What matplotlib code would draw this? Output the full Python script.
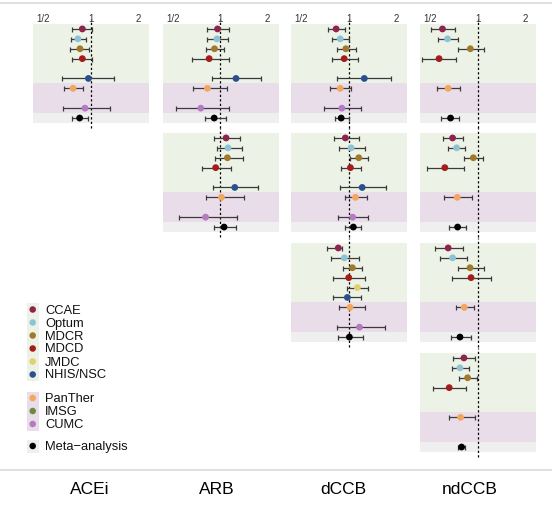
import matplotlib
matplotlib.use("Agg")
import matplotlib.pyplot as plt
from matplotlib.patches import Rectangle
import numpy as np

plt.rcParams['font.family'] = ['Liberation Sans', 'DejaVu Sans']

nan = np.nan

databases = ["CCAE", "Optum", "MDCR", "MDCD", "JMDC", "NHIS/NSC",
             "PanTher", "IMSG", "CUMC", "Meta\u2212analysis"]
db_colors = ["#8E2350", "#8EC3D6", "#A07A2C", "#A51C1C", "#E3CF6E", "#2B4F91",
             "#F2A65E", "#6E8B3D", "#B57BC0", "#000000"]
drug_labels = ["ACEi", "ARB", "dCCB", "ndCCB"]
tick_vals = [0.5, 1, 2]
tick_text = ["1/2", "1", "2"]

# hazard ratios with 95% CI, one panel per (row, column)
r1_acei_hr = [0.885, 0.83, 0.855, 0.885, nan, 0.967, 0.772, nan, 0.92, 0.851]
r1_acei_lo = [0.764, 0.746, 0.739, 0.764, nan, 0.66, 0.676, nan, 0.666, 0.764]
r1_acei_hi = [1.025, 0.929, 0.976, 1.015, nan, 1.41, 0.898, nan, 1.33, 0.967]

r1_arb_hr = [0.962, 0.953, 0.92, 0.851, nan, 1.259, 0.83, nan, 0.753, 0.916]
r1_arb_lo = [0.822, 0.83, 0.811, 0.66, nan, 0.885, 0.676, nan, 0.522, 0.803]
r1_arb_hi = [1.141, 1.119, 1.06, 1.13, nan, 1.816, 1.103, nan, 1.141, 1.087]

r1_dccb_hr = [0.832, 0.883, 0.959, 0.936, nan, 1.255, 0.883, nan, 0.905, 0.896]
r1_dccb_lo = [0.744, 0.781, 0.841, 0.781, nan, 0.849, 0.762, nan, 0.701, 0.82]
r1_dccb_hi = [0.941, 1.007, 1.116, 1.138, nan, 1.857, 1.037, nan, 1.196, 1.01]

r1_ndccb_hr = [0.598, 0.644, 0.898, 0.569, nan, nan, 0.65, nan, nan, 0.673]
r1_ndccb_lo = [0.509, 0.561, 0.746, 0.446, nan, nan, 0.556, nan, nan, 0.584]
r1_ndccb_hi = [0.717, 0.752, 1.097, 0.727, nan, nan, 0.771, nan, nan, 0.764]

r2_arb_hr = [1.089, 1.121, 1.111, 0.936, nan, 1.237, 1.018, nan, 0.808, 1.058]
r2_arb_lo = [0.913, 0.95, 0.927, 0.762, nan, 0.905, 0.808, nan, 0.552, 0.913]
r2_arb_hi = [1.337, 1.365, 1.391, 1.172, nan, 1.726, 1.405, nan, 1.274, 1.268]

r2_dccb_hr = [0.952, 1.035, 1.158, 1.025, nan, 1.217, 1.103, nan, 1.06, 1.07]
r2_dccb_lo = [0.803, 0.872, 1.025, 0.894, nan, 0.877, 0.952, nan, 0.855, 0.952]
r2_dccb_hi = [1.17, 1.265, 1.321, 1.198, nan, 1.728, 1.309, nan, 1.321, 1.198]

r2_ndccb_hr = [0.693, 0.735, 0.938, 0.619, nan, nan, 0.742, nan, nan, 0.746]
r2_ndccb_lo = [0.604, 0.65, 0.822, 0.478, nan, nan, 0.613, nan, nan, 0.66]
r2_ndccb_hi = [0.809, 0.83, 1.086, 0.818, nan, nan, 0.925, nan, nan, 0.843]

r3_dccb_hr = [0.859, 0.938, 1.055, 1.0, 1.135, 0.981, 1.02, nan, 1.17, 1.01]
r3_dccb_lo = [0.724, 0.768, 0.925, 0.79, 0.971, 0.79, 0.868, nan, 0.846, 0.851]
r3_dccb_hi = [0.902, 1.17, 1.21, 1.271, 1.321, 1.198, 1.271, nan, 1.686, 1.228]

r3_ndccb_hr = [0.65, 0.693, 0.894, 0.907, nan, nan, 0.822, nan, nan, 0.772]
r3_ndccb_lo = [0.535, 0.581, 0.746, 0.683, nan, nan, 0.724, nan, nan, 0.676]
r3_ndccb_hi = [0.802, 0.851, 1.097, 1.216, nan, nan, 0.947, nan, nan, 0.902]

r4_ndccb_hr = [0.818, 0.772, 0.863, 0.66, nan, nan, 0.779, nan, nan, 0.79]
r4_ndccb_lo = [0.7, 0.69, 0.76, 0.522, nan, nan, 0.657, nan, nan, 0.752]
r4_ndccb_hi = [0.962, 0.884, 0.995, 0.843, nan, nan, 0.962, nan, nan, 0.83]

panels = [
    (0, 0, r1_acei_hr, r1_acei_lo, r1_acei_hi),
    (0, 1, r1_arb_hr, r1_arb_lo, r1_arb_hi),
    (0, 2, r1_dccb_hr, r1_dccb_lo, r1_dccb_hi),
    (0, 3, r1_ndccb_hr, r1_ndccb_lo, r1_ndccb_hi),
    (1, 1, r2_arb_hr, r2_arb_lo, r2_arb_hi),
    (1, 2, r2_dccb_hr, r2_dccb_lo, r2_dccb_hi),
    (1, 3, r2_ndccb_hr, r2_ndccb_lo, r2_ndccb_hi),
    (2, 2, r3_dccb_hr, r3_dccb_lo, r3_dccb_hi),
    (2, 3, r3_ndccb_hr, r3_ndccb_lo, r3_ndccb_hi),
    (3, 3, r4_ndccb_hr, r4_ndccb_lo, r4_ndccb_hi),
]

W, H = 552, 506
GREEN, PURPLE, GREY = "#EDF2E6", "#EADDEA", "#EFEFEF"
col_left = [33, 162.5, 291, 420]
row_top = [25, 134, 244, 354]
pw, ph = 116, 99

fig = plt.figure(figsize=(W / 100, H / 100), dpi=100)


def px_axes(left, top, w, h):
    return fig.add_axes([left / W, 1 - (top + h) / H, w / W, h / H])


for r, c, hr, lo, hi in panels:
    ax = px_axes(col_left[c], row_top[r], pw, ph)
    ax.axhspan(0, 6, color=GREEN, lw=0)
    ax.axhspan(6, 9, color=PURPLE, lw=0)
    ax.axhspan(9, 10, color=GREY, lw=0)
    ax.set_xscale('log', base=2)
    ax.set_xlim(0.431, 2.34)
    ax.set_ylim(10, 0)
    ax.axvline(1, ymin=-0.05, ymax=1.05, color="black", lw=0.9,
               ls=(0, (1.8, 1.8)), clip_on=False, zorder=1)

    hr = np.array(hr)
    lo = np.array(lo)
    hi = np.array(hi)
    ypos = np.arange(len(hr)) + 0.5
    ok = ~np.isnan(hr)
    ax.errorbar(hr[ok], ypos[ok], xerr=[hr[ok] - lo[ok], hi[ok] - hr[ok]],
                fmt='none', ecolor="#3a3a3a", elinewidth=0.9,
                capsize=1.8, capthick=0.9, zorder=2)
    ax.scatter(hr[ok], ypos[ok], c=np.array(db_colors)[ok], s=24,
               linewidths=0, zorder=3)

    for s in ax.spines.values():
        s.set_visible(False)
    ax.set_yticks([])
    ax.minorticks_off()
    if r == 0:
        ax.xaxis.tick_top()
        ax.set_xticks(tick_vals)
        ax.set_xticklabels(tick_text)
        ax.tick_params(axis='x', length=0, pad=1, labelsize=7,
                       labelcolor="#333333")
        ax.xaxis.set_minor_locator(matplotlib.ticker.NullLocator())
    else:
        ax.set_xticks([])

# legend and frame lines drawn on an overlay in pixel units
lg = fig.add_axes([0, 0, 1, 1])
lg.set_xlim(0, W)
lg.set_ylim(H, 0)
lg.axis('off')
lg.plot([0, W], [4, 4], color="#DADADA", lw=1.2)
lg.plot([0, W], [471, 471], color="#DADADA", lw=1.2)

leg_y = [310.5, 323.5, 336.5, 349.5, 362.5, 375.5, 399, 412, 425, 447]
lg.add_patch(Rectangle((27, 304), 11.5, 78, color=GREEN, lw=0))
lg.add_patch(Rectangle((27, 392.5), 11.5, 39, color=PURPLE, lw=0))
lg.add_patch(Rectangle((27, 440.5), 11.5, 13, color=GREY, lw=0))
lg.scatter([32.7] * len(leg_y), leg_y, c=db_colors, s=22, linewidths=0)
for name, yy in zip(databases, leg_y):
    lg.text(45, yy, name, fontsize=9.3, va='center', ha='left', color="#111111")

label_x = [90, 217, 343, 470]
for name, xx in zip(drug_labels, label_x):
    fig.text(xx / W, 1 - 490 / H, name, fontsize=12.5, ha='center', va='center')

fig.savefig("out.png", dpi=100)
